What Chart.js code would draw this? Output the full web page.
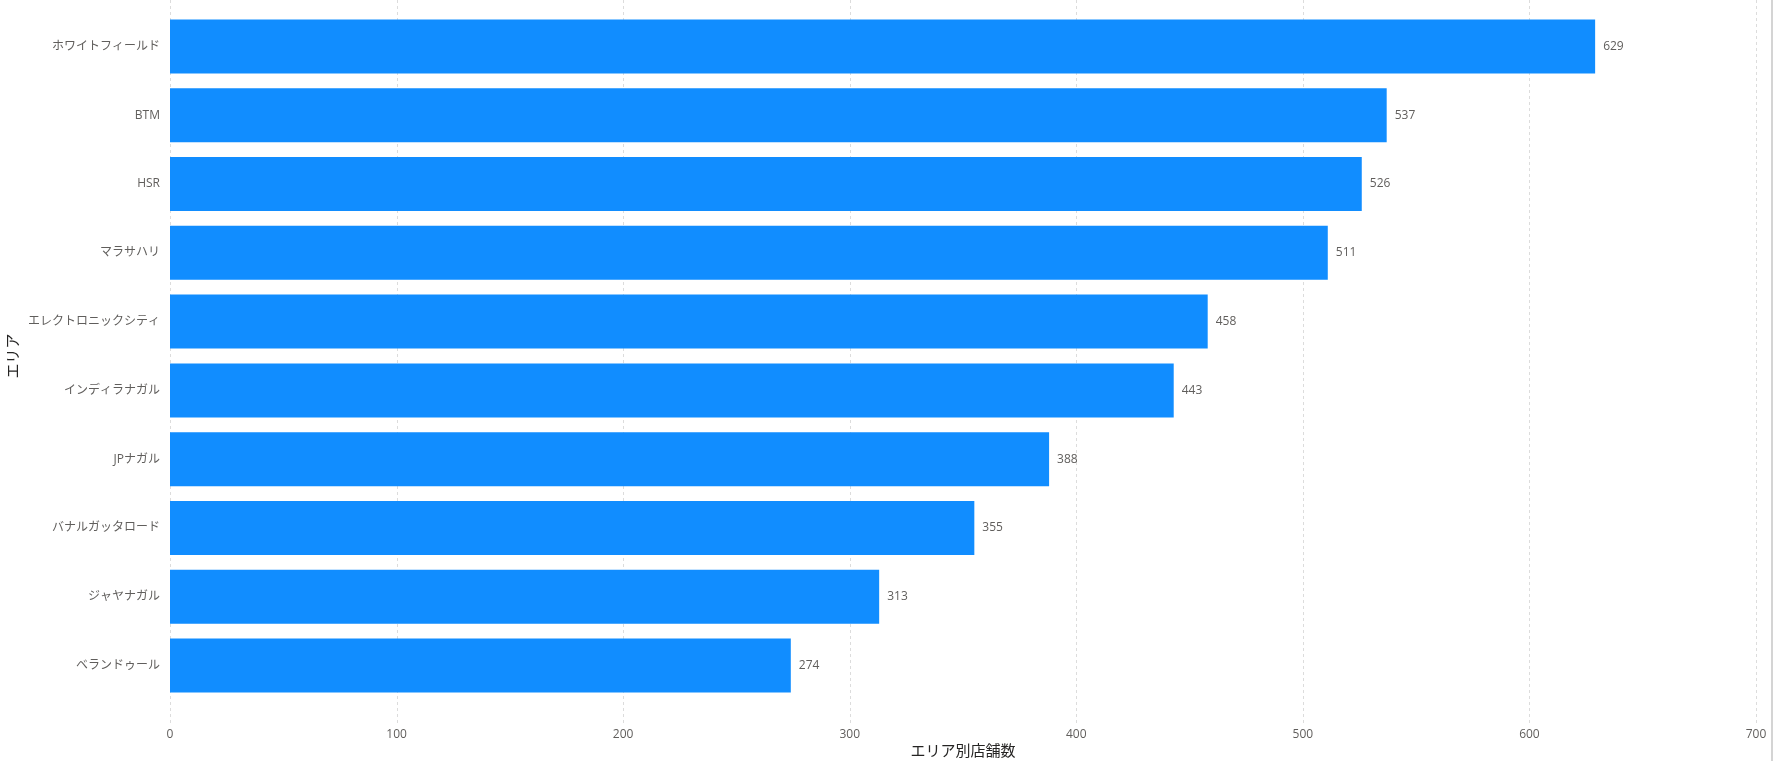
<!DOCTYPE html>
<html>
<head>
<meta charset="utf-8">
<script src="https://cdn.jsdelivr.net/npm/chart.js@4"></script>
<style>
  html, body { margin: 0; padding: 0; background: #fff; }
  #wrap { position: relative; width: 1774px; height: 761px; }
  #edge { position: absolute; left: 1771px; top: 0; width: 2px; height: 761px; background: #d4d4d4; }
</style>
</head>
<body>
<div id="wrap">
  <canvas id="chart" width="1774" height="761"></canvas>
  <div id="edge"></div>
</div>
<script>
const areas = ['ホワイトフィールド', 'BTM', 'HSR', 'マラサハリ', 'エレクトロニックシティ', 'インディラナガル', 'JPナガル', 'バナルガッタロード', 'ジャヤナガル', 'ベランドゥール'];
const storeCounts = [629, 537, 526, 511, 458, 443, 388, 355, 313, 274];
const xTicks = [0, 100, 200, 300, 400, 500, 600, 700];

const fontFamily = '"Segoe UI", "Open Sans", "Noto Sans CJK JP", sans-serif';

// dashed vertical grid that runs past the plot area like the original
const gridPlugin = {
  id: 'fullGrid',
  beforeDatasetsDraw(chart) {
    const ctx = chart.ctx;
    const x = chart.scales.x;
    ctx.save();
    ctx.strokeStyle = '#dcdcdc';
    ctx.lineWidth = 1;
    ctx.setLineDash([3, 3]);
    x.ticks.forEach(t => {
      const px = Math.round(x.getPixelForValue(t.value)) + 0.5;
      ctx.beginPath();
      ctx.moveTo(px, 0);
      ctx.lineTo(px, chart.chartArea.bottom + 23);
      ctx.stroke();
    });
    ctx.restore();
  }
};

const valueLabels = {
  id: 'valueLabels',
  afterDatasetsDraw(chart) {
    const ctx = chart.ctx;
    const meta = chart.getDatasetMeta(0);
    ctx.save();
    ctx.font = '12px ' + fontFamily;
    ctx.fillStyle = '#605E5C';
    ctx.textAlign = 'left';
    ctx.textBaseline = 'middle';
    meta.data.forEach((bar, i) => {
      ctx.fillText(storeCounts[i], bar.x + 8, bar.y);
    });
    ctx.restore();
  }
};

new Chart(document.getElementById('chart'), {
  type: 'bar',
  data: {
    labels: areas,
    datasets: [{
      data: storeCounts,
      backgroundColor: '#118DFF',
      borderWidth: 0,
      categoryPercentage: 1,
      barPercentage: 0.785
    }]
  },
  options: {
    indexAxis: 'y',
    responsive: false,
    animation: false,
    layout: { padding: { top: 12, right: 18, left: 0, bottom: 0 } },
    plugins: {
      legend: { display: false },
      tooltip: { enabled: false }
    },
    scales: {
      x: {
        min: 0,
        max: 700,
        afterBuildTicks: s => { s.ticks = xTicks.map(v => ({ value: v })); },
        afterFit: s => { s.height = 61; s.paddingLeft = 0; s.paddingRight = 0; },
        grid: { display: false, drawTicks: false },
        border: { display: false },
        ticks: {
          padding: 27,
          color: '#605E5C',
          font: { family: fontFamily, size: 12 }
        },
        title: {
          display: true,
          text: 'エリア別店舗数',
          color: '#252423',
          padding: { top: 0, bottom: 0 },
          font: { family: fontFamily, size: 15 }
        }
      },
      y: {
        afterFit: s => { s.width = 170; s.paddingTop = 0; s.paddingBottom = 0; },
        grid: { display: false, drawTicks: false },
        border: { display: false },
        ticks: {
          padding: 10,
          color: '#605E5C',
          font: { family: fontFamily, size: 12 }
        },
        title: {
          display: true,
          text: 'エリア',
          color: '#252423',
          padding: { top: 5, bottom: 0 },
          font: { family: fontFamily, size: 15 }
        }
      }
    }
  },
  plugins: [gridPlugin, valueLabels]
});
</script>
</body>
</html>
